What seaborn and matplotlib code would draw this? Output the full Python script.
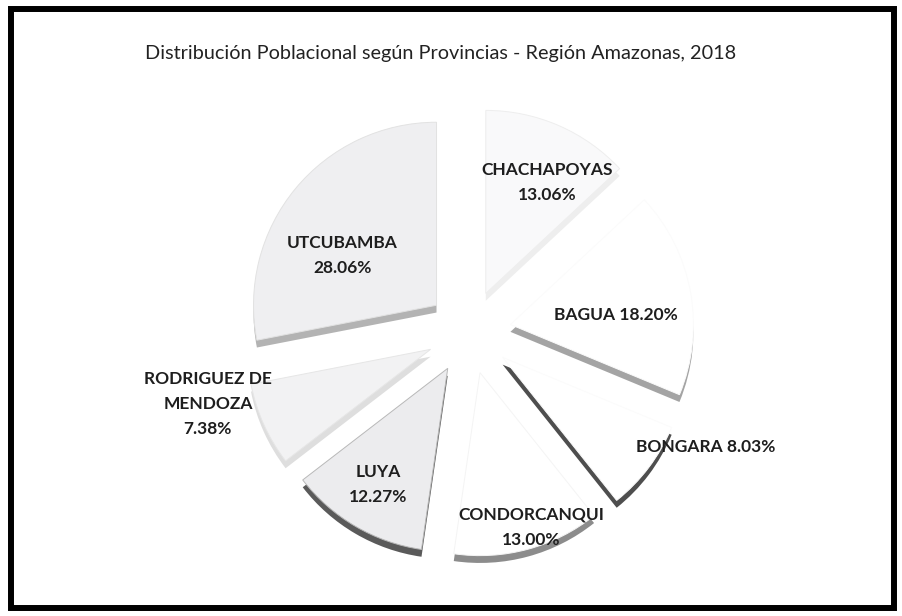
import numpy as np
import matplotlib
matplotlib.use("Agg")
import matplotlib.pyplot as plt
import seaborn as sns
from matplotlib.patches import Rectangle

# ---- data ----
provinceNames = ["CHACHAPOYAS", "BAGUA", "BONGARA", "CONDORCANQUI", "LUYA",
                 "RODRIGUEZ DE MENDOZA", "UTCUBAMBA"]
populationShare = [13.06, 18.20, 8.03, 13.00, 12.27, 7.38, 28.06]
labelNames = ["CHACHAPOYAS", "BAGUA", "BONGARA", "CONDORCANQUI", "LUYA",
              "RODRIGUEZ DE\nMENDOZA", "UTCUBAMBA"]
chartTitle = "Distribución Poblacional según Provincias - Región Amazonas, 2018"

# ---- styling ----
topColors = ["#f9f9fa", "#ffffff", "#ffffff", "#ffffff", "#ececee", "#f2f2f3", "#efeff1"]
topEdges = ["#eeeeee", "#fbfbfb", "#fbfbfb", "#f4f4f4", "#b8b8b8", "#e6e6e6", "#e2e2e2"]
sideColors = ["#eeeeee", "#a4a4a4", "#4e4e4e", "#8c8c8c", "#5a5a5a", "#dedede", "#b3b3b3"]
labelSep = ["\n", " ", " ", "\n", "\n", "\n", "\n"]
labelRadius = [0.92, 0.81, 1.44, 1.12, 0.97, 1.48, 0.81]
labelNudge = [-4.0, -3.6, 11.1, 2.6, -0.4, -8.9, 8.3]

W, H = 902, 616
CX, CY, R = 469, 332, 183      # pie centre / radius in pixels (y from top)
EXPLODE = 0.23
DEPTH = 0.04

sns.set_theme(style="white")
plt.rcParams["font.family"] = ["Lato", "DejaVu Sans"]

fig = plt.figure(figsize=(W / 100, H / 100), dpi=100)
fig.patch.set_facecolor("white")
ax = fig.add_axes([0, 0, 1, 1])

explode = [EXPLODE] * len(populationShare)

# side of the 3d slices: same pie pushed a little down
ax.pie(populationShare, colors=sideColors, startangle=90, counterclock=False,
       explode=explode, center=(0, -DEPTH), wedgeprops=dict(linewidth=0))

# top face
wedges, _ = ax.pie(populationShare, colors=topColors, startangle=90, counterclock=False,
                   explode=explode, wedgeprops=dict(linewidth=0.7))
for wedge, edge in zip(wedges, topEdges):
    wedge.set_edgecolor(edge)

for wedge, name, share, sep, rad, nudge in zip(wedges, labelNames, populationShare,
                                              labelSep, labelRadius, labelNudge):
    midAngle = np.deg2rad((wedge.theta1 + wedge.theta2) / 2 + nudge)
    ax.text(rad * np.cos(midAngle), rad * np.sin(midAngle),
            f"{name}{sep}{share:.2f}%", ha="center", va="center",
            fontsize=12.5, fontweight="bold", color="#1e1e1e", linespacing=1.72)

ax.set_aspect("auto")
ax.set_xlim(-CX / R, (W - CX) / R)
ax.set_ylim((CY - H) / R, CY / R)
ax.axis("off")

fig.text(441 / W, 1 - 53 / H, chartTitle, ha="center", va="center",
         fontsize=14.3, color="#222222")

fig.patches.append(Rectangle((11 / W, 1 - 608 / H), (894 - 11) / W, (608 - 9) / H,
                             transform=fig.transFigure, fill=False,
                             edgecolor="black", linewidth=4.3))

fig.savefig("out.png", dpi=100, facecolor="white")
